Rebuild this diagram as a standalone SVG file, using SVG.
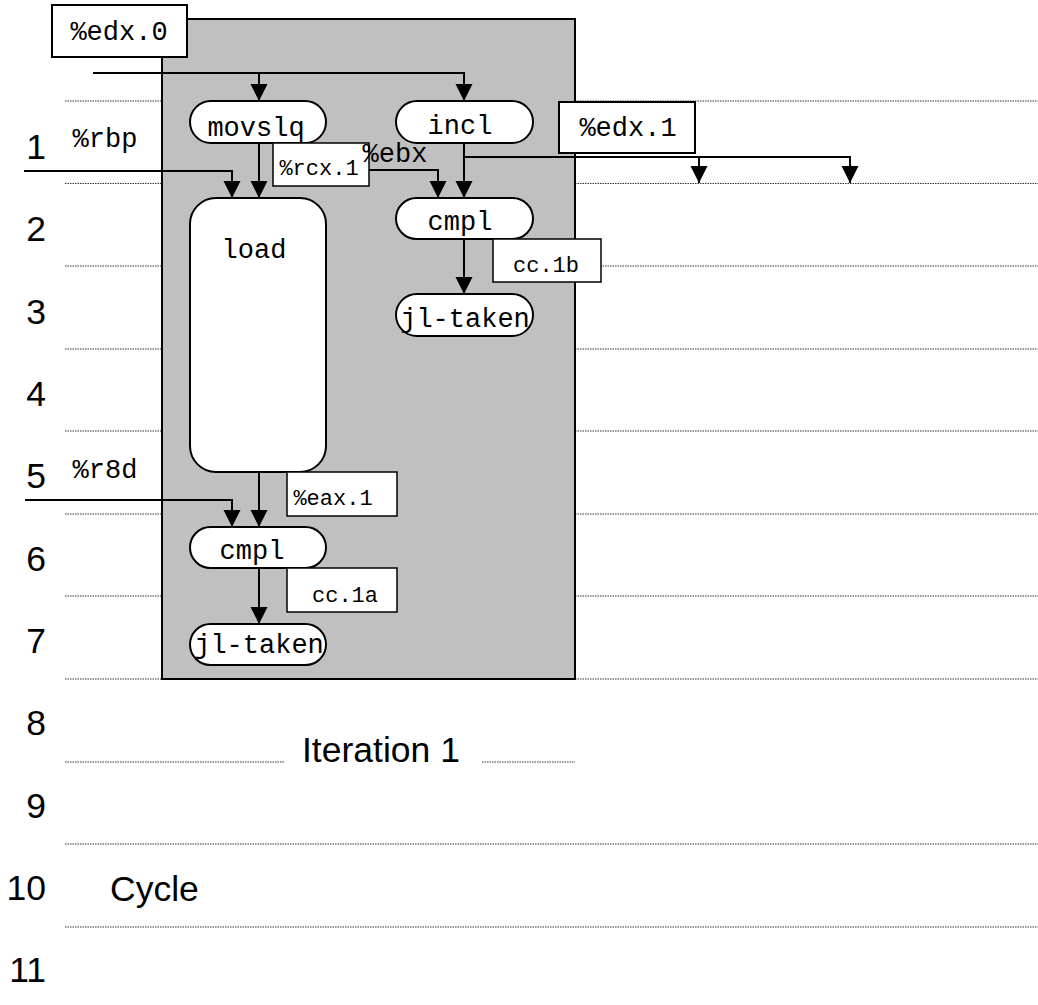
<svg xmlns="http://www.w3.org/2000/svg" width="1038" height="1005" viewBox="0 0 1038 1005">
<style>
.grid{stroke:#333;stroke-width:1;stroke-dasharray:1.5 1;fill:none}
.node{fill:#fff;stroke:#000;stroke-width:2}
.lbl{fill:#fff;stroke:#000;stroke-width:1.5}
.mono{font-family:"Liberation Mono","Courier New",monospace;fill:#000}
.big{font-size:27px}
.small{font-size:22px}
.sans{font-family:"Liberation Sans",Arial,Helvetica,sans-serif;font-size:35.5px;fill:#000}
.edge{fill:none;stroke:#000;stroke-width:2}
</style>
<defs>
<marker id="ah" markerUnits="userSpaceOnUse" markerWidth="18" markerHeight="18" refX="17" refY="9" orient="auto">
<path d="M0,0.5 L17,9 L0,17.5 z" fill="#000"/>
</marker>
</defs>
<rect width="1038" height="1005" fill="#fff"/>
<g id="grid">
<line class="grid" x1="65" y1="101" x2="1038" y2="101"/>
<line class="grid" x1="65" y1="183.5" x2="1038" y2="183.5"/>
<line class="grid" x1="65" y1="266" x2="1038" y2="266"/>
<line class="grid" x1="65" y1="349" x2="1038" y2="349"/>
<line class="grid" x1="65" y1="431" x2="1038" y2="431"/>
<line class="grid" x1="65" y1="514" x2="1038" y2="514"/>
<line class="grid" x1="65" y1="596" x2="1038" y2="596"/>
<line class="grid" x1="65" y1="679" x2="1038" y2="679"/>
<line class="grid" x1="65" y1="762" x2="284" y2="762"/>
<line class="grid" x1="482" y1="762" x2="575" y2="762"/>
<line class="grid" x1="65" y1="844" x2="1038" y2="844"/>
<line class="grid" x1="65" y1="927" x2="1038" y2="927"/>
</g>
<g id="cycles">
<text class="sans" x="46" y="159" text-anchor="end">1</text>
<text class="sans" x="46" y="241" text-anchor="end">2</text>
<text class="sans" x="46" y="324" text-anchor="end">3</text>
<text class="sans" x="46" y="406" text-anchor="end">4</text>
<text class="sans" x="46" y="488" text-anchor="end">5</text>
<text class="sans" x="46" y="571" text-anchor="end">6</text>
<text class="sans" x="46" y="653" text-anchor="end">7</text>
<text class="sans" x="46" y="735" text-anchor="end">8</text>
<text class="sans" x="46" y="818" text-anchor="end">9</text>
<text class="sans" x="46" y="900" text-anchor="end">10</text>
<text class="sans" x="46" y="982" text-anchor="end">11</text>
<text class="sans" x="110" y="901">Cycle</text>
</g>
<g id="iteration">
<rect x="162" y="19" width="413" height="660" fill="#c0c0c0" stroke="#000" stroke-width="2"/>
<text class="sans" x="302" y="762">Iteration 1</text>
</g>
<g id="connectors">
<path class="edge" d="M93,73 H464 V101" marker-end="url(#ah)"/>
<path class="edge" d="M259,73 V101" marker-end="url(#ah)"/>
<path class="edge" d="M259,143 V198" marker-end="url(#ah)"/>
<path class="edge" d="M24,171 H232 V198" marker-end="url(#ah)"/>
<path class="edge" d="M369,170 H438 V198" marker-end="url(#ah)"/>
<path class="edge" d="M464,143 V198" marker-end="url(#ah)"/>
<path class="edge" d="M464,157 H850 V183" marker-end="url(#ah)"/>
<path class="edge" d="M699,157 V183" marker-end="url(#ah)"/>
<path class="edge" d="M464,239 V294" marker-end="url(#ah)"/>
<path class="edge" d="M259,472 V527" marker-end="url(#ah)"/>
<path class="edge" d="M25,500 H232 V527" marker-end="url(#ah)"/>
<path class="edge" d="M259,568 V624" marker-end="url(#ah)"/>
</g>
<g id="edx0">
<rect class="node" x="52" y="5" width="135" height="52"/>
<text class="mono big" x="119" y="40" text-anchor="middle">%edx.0</text>
</g>
<g id="movslq">
<rect class="node" x="190" y="101" width="136" height="42" rx="21"/>
<text class="mono big" x="256" y="136" text-anchor="middle">movslq</text>
</g>
<g id="incl">
<rect class="node" x="396" y="101" width="137" height="42" rx="21"/>
<text class="mono big" x="460" y="134" text-anchor="middle">incl</text>
</g>
<g id="edx1">
<rect class="node" x="559" y="102" width="136" height="51"/>
<text class="mono big" x="628" y="136" text-anchor="middle">%edx.1</text>
</g>
<g id="rcx1">
<rect class="lbl" x="273" y="143" width="96" height="43"/>
<text class="mono small" x="319" y="175" text-anchor="middle">%rcx.1</text>
</g>
<g id="ebx">
<text class="mono big" x="395" y="162" text-anchor="middle">%ebx</text>
</g>
<g id="rbp">
<text class="mono big" x="105" y="147" text-anchor="middle">%rbp</text>
</g>
<g id="load">
<rect class="node" x="190" y="198" width="136" height="274" rx="26"/>
<text class="mono big" x="254" y="258" text-anchor="middle">load</text>
</g>
<g id="cmpl1b">
<rect class="node" x="396" y="198" width="137" height="41" rx="20.5"/>
<text class="mono big" x="460" y="230" text-anchor="middle">cmpl</text>
</g>
<g id="cc1b">
<rect class="lbl" x="493" y="239" width="108" height="43"/>
<text class="mono small" x="546" y="272" text-anchor="middle">cc.1b</text>
</g>
<g id="jl1b">
<rect class="node" x="396" y="294" width="137" height="42" rx="21"/>
<text class="mono big" x="465" y="327" text-anchor="middle">jl-taken</text>
</g>
<g id="r8d">
<text class="mono big" x="105" y="478" text-anchor="middle">%r8d</text>
</g>
<g id="eax1">
<rect class="lbl" x="287" y="472" width="110" height="44"/>
<text class="mono small" x="333" y="505" text-anchor="middle">%eax.1</text>
</g>
<g id="cmpl1a">
<rect class="node" x="190" y="527" width="136" height="41" rx="20.5"/>
<text class="mono big" x="252" y="559" text-anchor="middle">cmpl</text>
</g>
<g id="cc1a">
<rect class="lbl" x="287" y="568" width="110" height="44"/>
<text class="mono small" x="345" y="602" text-anchor="middle">cc.1a</text>
</g>
<g id="jl1a">
<rect class="node" x="190" y="624" width="136" height="41" rx="20.5"/>
<text class="mono big" x="259" y="653" text-anchor="middle">jl-taken</text>
</g>
</svg>
